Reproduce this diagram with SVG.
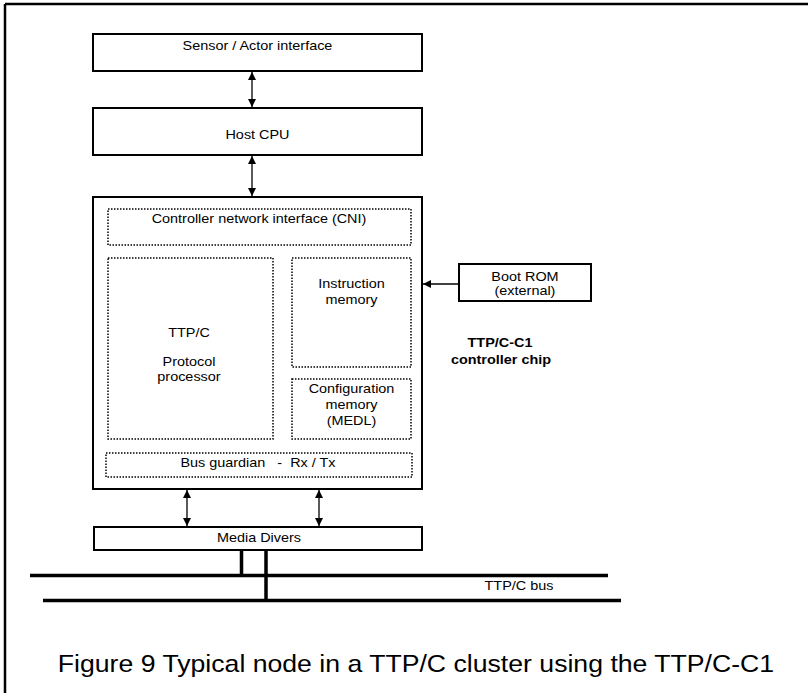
<svg xmlns="http://www.w3.org/2000/svg" width="808" height="693" viewBox="0 0 808 693">
<style>
text{font-family:"Liberation Sans",Arial,sans-serif;font-size:13px;fill:#000;text-anchor:middle;transform-box:fill-box;transform-origin:center;transform:scaleX(1.11)}
.b{font-weight:bold}
.cap{font-size:24px}
.box{fill:#fff;stroke:#000;stroke-width:2}
.dot{fill:none;stroke:#000;stroke-width:1.5;stroke-dasharray:1.5 1.5}
.ar{stroke:#000;stroke-width:1.3;fill:none}
.bus{stroke:#000;stroke-width:3.5;fill:none}
.frame{stroke:#000;stroke-width:2.5;fill:none}
</style>
<defs>
<marker id="ah" markerUnits="userSpaceOnUse" markerWidth="8" markerHeight="8" refX="6" refY="3" orient="auto-start-reverse" viewBox="0 0 6 6">
<path d="M0,0 L6,3 L0,6 Z" fill="#000"/>
</marker>
</defs>
<rect width="808" height="693" fill="#fff"/>
<g id="frame">
<path class="frame" d="M5,4 H808 M5,4 V693"/>
</g>
<g id="sensor">
<rect class="box" x="93" y="34" width="329" height="37"/>
<text x="257.5" y="50">Sensor / Actor interface</text>
</g>
<g id="host">
<rect class="box" x="93" y="108" width="329" height="47"/>
<text x="257.5" y="139">Host CPU</text>
</g>
<g id="chip">
<rect class="box" x="93" y="197" width="329" height="292"/>
</g>
<g id="cni">
<rect class="dot" x="108" y="209" width="303" height="36"/>
<text x="259" y="223">Controller network interface (CNI)</text>
</g>
<g id="protocol">
<rect class="dot" x="108" y="258" width="165" height="181"/>
<text x="189" y="337">TTP/C</text>
<text x="189" y="366">Protocol</text>
<text x="189" y="381">processor</text>
</g>
<g id="instr">
<rect class="dot" x="292" y="258" width="119" height="109"/>
<text x="351.5" y="288">Instruction</text>
<text x="351.5" y="304">memory</text>
</g>
<g id="config">
<rect class="dot" x="292" y="379" width="119" height="60"/>
<text x="351.5" y="393">Configuration</text>
<text x="351.5" y="409">memory</text>
<text x="351.5" y="425">(MEDL)</text>
</g>
<g id="guardian">
<rect class="dot" x="106" y="453" width="306" height="24"/>
<text x="258" y="467">Bus guardian&#160;&#160;&#160;-&#160;&#160;Rx / Tx</text>
</g>
<g id="bootrom">
<rect class="box" x="459" y="264" width="132" height="37"/>
<text x="525" y="281">Boot ROM</text>
<text x="525" y="295">(external)</text>
</g>
<g id="chiplabel">
<text class="b" x="500" y="347">TTP/C-C1</text>
<text class="b" x="501" y="364">controller chip</text>
</g>
<g id="media">
<rect class="box" x="94" y="527" width="328" height="23"/>
<text x="259" y="542">Media Divers</text>
</g>
<g id="connectors">
<line class="ar" x1="252" y1="72" x2="252" y2="107" marker-start="url(#ah)" marker-end="url(#ah)"/>
<line class="ar" x1="252" y1="156" x2="252" y2="196" marker-start="url(#ah)" marker-end="url(#ah)"/>
<line class="ar" x1="459" y1="284" x2="423" y2="284" marker-end="url(#ah)"/>
<line class="ar" x1="187" y1="490" x2="187" y2="526" marker-start="url(#ah)" marker-end="url(#ah)"/>
<line class="ar" x1="319" y1="490" x2="319" y2="526" marker-start="url(#ah)" marker-end="url(#ah)"/>
<path class="bus" d="M241.5,551 V576 M266,551 V600"/>
<path class="bus" d="M30,575.5 H608 M43,600.5 H621"/>
</g>
<g id="buslabel">
<text x="519" y="590">TTP/C bus</text>
</g>
<g id="caption">
<text class="cap" x="416" y="672">Figure 9 Typical node in a TTP/C cluster using the TTP/C-C1</text>
</g>
</svg>
